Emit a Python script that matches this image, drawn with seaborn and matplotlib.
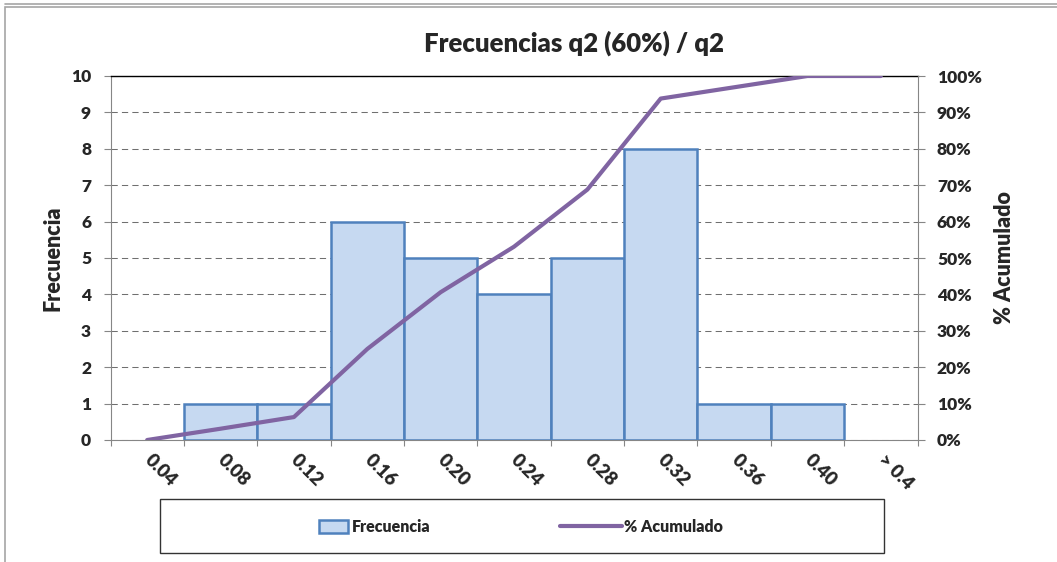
import numpy as np
import pandas as pd
import matplotlib
matplotlib.use('Agg')
import matplotlib.pyplot as plt
import seaborn as sns
from matplotlib.patches import Rectangle, Patch
from matplotlib.lines import Line2D
from matplotlib.ticker import FuncFormatter

# Datos
clases = ['0.04', '0.08', '0.12', '0.16', '0.20', '0.24', '0.28', '0.32', '0.36', '0.40', '> 0.4']
frecuencia = [0, 1, 1, 6, 5, 4, 5, 8, 1, 1, 0]
acumulado = [0, 3.1, 6.3, 25.0, 40.6, 53.1, 68.8, 93.8, 96.9, 100, 100]

titulo = 'Frecuencias q2 (60%) / q2'

azul_relleno = '#C6D9F1'
azul_borde = '#4F81BD'
morado = '#8064A2'
gris = '#868686'

sns.set_style('white')
plt.rcParams['font.family'] = ['Lato', 'DejaVu Sans']
plt.rcParams['font.weight'] = 'heavy'

W, H = 1057, 562
fig = plt.figure(figsize=(W / 100, H / 100), dpi=100)
ax = fig.add_axes([110.5 / W, 1 - 440 / H, (917.5 - 110.5) / W, (440 - 76) / H])

df = pd.DataFrame({'Clase': clases, 'Frecuencia': frecuencia, 'Acumulado': acumulado})

# Histograma (barras)
ax.yaxis.grid(True, color='#6F6F6F', linestyle=(0, (6, 4)), linewidth=0.75)
ax.set_axisbelow(True)
sns.barplot(data=df, x='Clase', y='Frecuencia', order=clases, width=1,
            color=azul_relleno, saturation=1, edgecolor=azul_borde,
            linewidth=1.8, ax=ax)
for p in ax.patches:
    if p.get_height() == 0:
        p.set_visible(False)

ax.set_xlim(-0.5, len(clases) - 0.5)
ax.set_ylim(0, 10)
ax.set_yticks(range(0, 11))
ax.set_xlabel('')
ax.set_ylabel('Frecuencia', fontsize=15.5, fontweight='heavy', labelpad=5)
ax.set_xticks(np.arange(-0.5, len(clases), 1), minor=True)
ax.tick_params(axis='y', left=True, length=5, width=0.8, color=gris, pad=9,
               labelsize=12.5)
ax.tick_params(axis='x', which='major', bottom=True, length=0, pad=12, labelsize=13.5)
ax.tick_params(axis='x', which='minor', bottom=True, length=4.5, width=0.8, color=gris)
for lab in ax.get_xticklabels():
    lab.set_rotation(-45)
    lab.set_ha('left')
    lab.set_va('center')
    lab.set_rotation_mode('anchor')

for s in ['left', 'bottom']:
    ax.spines[s].set_color(gris)
    ax.spines[s].set_linewidth(0.8)
ax.spines['top'].set_color('black')
ax.spines['top'].set_linewidth(1)
ax.spines['right'].set_visible(False)

# Línea de % acumulado
ax2 = ax.twinx()
sns.lineplot(x=np.arange(len(clases)), y=df['Acumulado'], color=morado,
             linewidth=3, ax=ax2)
ax2.set_ylim(0, 100)
ax2.set_yticks(range(0, 101, 10))
ax2.yaxis.set_major_formatter(FuncFormatter(lambda v, _: f'{v:.0f}%'))
ax2.set_ylabel('% Acumulado', fontsize=15.5, fontweight='heavy', labelpad=9)
ax2.tick_params(axis='y', right=True, length=5, width=0.8, color=gris, pad=9,
                labelsize=12.5)
for s in ['left', 'bottom', 'top']:
    ax2.spines[s].set_visible(False)
ax2.spines['right'].set_color(gris)
ax2.spines['right'].set_linewidth(0.8)

# Título
fig.text(574 / W, 1 - 52 / H, titulo, ha='center', va='baseline',
         fontsize=18.5, fontweight='heavy')

# Leyenda
fig.add_artist(Rectangle((160 / W, 1 - 553 / H), 724 / W, 54 / H,
                         transform=fig.transFigure, fill=False,
                         edgecolor='#333333', linewidth=1))
h1 = Patch(facecolor=azul_relleno, edgecolor=azul_borde, linewidth=1.8, label='Frecuencia')
h2 = Line2D([], [], color=morado, linewidth=3, label='% Acumulado')
fig.legend(handles=[h1], loc='center left', bbox_to_anchor=(319 / W, 1 - 527 / H),
           frameon=False, fontsize=11.5, handlelength=1.8, handleheight=0.8,
           handletextpad=0.25, borderpad=0, borderaxespad=0)
fig.legend(handles=[h2], loc='center left', bbox_to_anchor=(560 / W, 1 - 527 / H),
           frameon=False, fontsize=11.5, handlelength=3.9,
           handletextpad=0.1, borderpad=0, borderaxespad=0)

# Marco del área del gráfico
fig.add_artist(Rectangle((5 / W, -0.1), 1.1, 1 - 7 / H + 0.1,
                         transform=fig.transFigure, fill=False,
                         edgecolor='#A6A6A6', linewidth=1.2))
fig.add_artist(Line2D([5 / W, 1], [1 - 4 / H, 1 - 4 / H], transform=fig.transFigure,
                      color='#A6A6A6', linewidth=1.2))

fig.savefig('out.png', dpi=100)
